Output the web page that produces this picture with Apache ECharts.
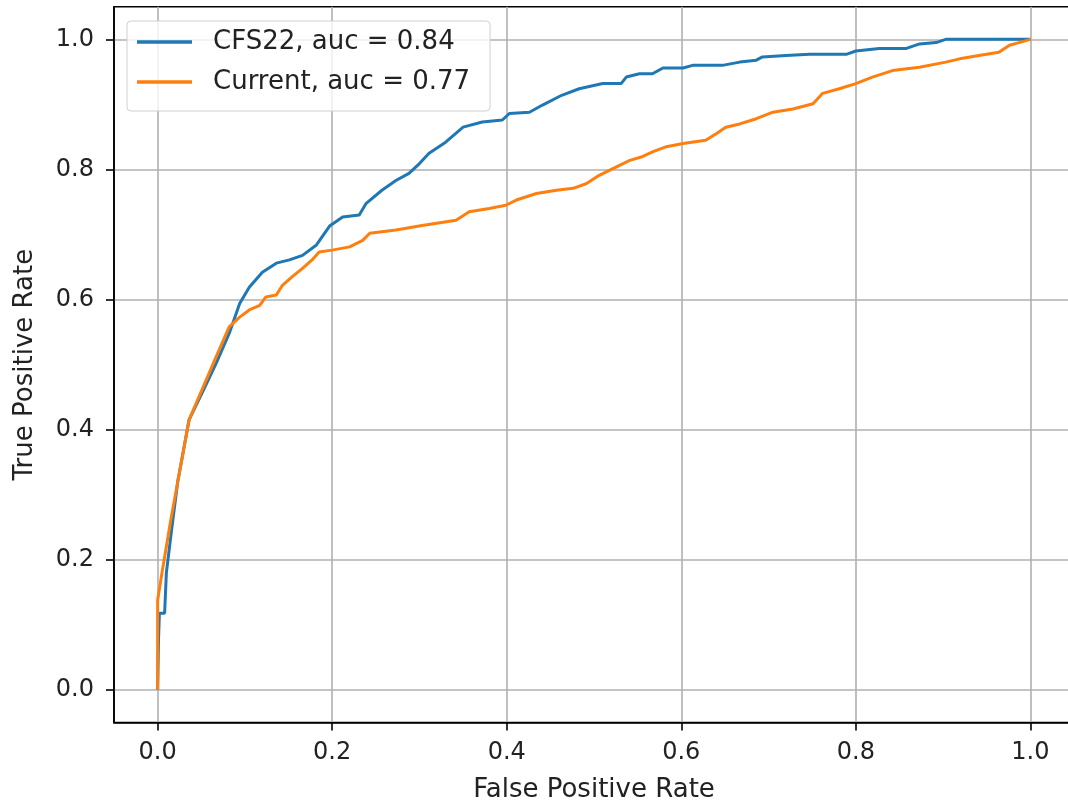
<!DOCTYPE html>
<html>
<head>
<meta charset="utf-8">
<script src="https://cdn.jsdelivr.net/npm/echarts@6/dist/echarts.min.js"></script>
<style>
html,body{margin:0;padding:0;background:#fff;}
#chart{width:1068px;height:805px;}
</style>
</head>
<body>
<div id="chart"></div>
<script>
const seriesNames = ['CFS22, auc = 0.84', 'Current, auc = 0.77'];
const xTickValues = [0, 0.2, 0.4, 0.6, 0.8, 1.0];
const yTickValues = [0, 0.2, 0.4, 0.6, 0.8, 1.0];
const xAxisTitle = 'False Positive Rate';
const yAxisTitle = 'True Positive Rate';

const fprCFS22 = [0, 0.001, 0.002, 0.008, 0.010, 0.016, 0.023, 0.036, 0.054, 0.067, 0.082, 0.094, 0.105, 0.120, 0.136, 0.151, 0.166, 0.182, 0.197, 0.212, 0.231, 0.239, 0.257, 0.273, 0.288, 0.300, 0.311, 0.330, 0.350, 0.372, 0.395, 0.403, 0.426, 0.441, 0.463, 0.483, 0.510, 0.531, 0.537, 0.552, 0.567, 0.579, 0.602, 0.613, 0.647, 0.667, 0.686, 0.693, 0.720, 0.747, 0.789, 0.800, 0.827, 0.858, 0.873, 0.892, 0.903, 1.0];
const tprCFS22 = [0, 0.077, 0.118, 0.118, 0.180, 0.246, 0.320, 0.415, 0.465, 0.502, 0.548, 0.594, 0.619, 0.642, 0.656, 0.661, 0.668, 0.684, 0.713, 0.727, 0.730, 0.748, 0.768, 0.783, 0.794, 0.809, 0.825, 0.842, 0.865, 0.873, 0.876, 0.886, 0.888, 0.899, 0.914, 0.924, 0.932, 0.932, 0.942, 0.947, 0.947, 0.956, 0.956, 0.960, 0.960, 0.965, 0.968, 0.973, 0.975, 0.977, 0.977, 0.982, 0.986, 0.986, 0.993, 0.995, 1.0, 1.0];

const fprCurrent = [0, 0.0, 0.005, 0.015, 0.036, 0.067, 0.082, 0.094, 0.105, 0.117, 0.124, 0.136, 0.143, 0.154, 0.166, 0.177, 0.185, 0.200, 0.220, 0.235, 0.243, 0.273, 0.303, 0.342, 0.357, 0.380, 0.399, 0.411, 0.434, 0.457, 0.476, 0.491, 0.506, 0.521, 0.541, 0.556, 0.567, 0.583, 0.602, 0.628, 0.640, 0.651, 0.667, 0.686, 0.705, 0.728, 0.751, 0.762, 0.781, 0.800, 0.819, 0.842, 0.873, 0.903, 0.919, 0.941, 0.964, 0.976, 0.987, 1.0];
const tprCurrent = [0, 0.138, 0.180, 0.261, 0.415, 0.512, 0.558, 0.573, 0.584, 0.591, 0.604, 0.607, 0.622, 0.635, 0.648, 0.661, 0.673, 0.676, 0.681, 0.691, 0.702, 0.707, 0.714, 0.722, 0.735, 0.740, 0.745, 0.753, 0.763, 0.768, 0.771, 0.778, 0.791, 0.801, 0.814, 0.820, 0.827, 0.835, 0.840, 0.845, 0.855, 0.865, 0.870, 0.878, 0.888, 0.893, 0.901, 0.917, 0.924, 0.932, 0.942, 0.952, 0.957, 0.965, 0.970, 0.975, 0.980, 0.991, 0.995, 1.0];

const colors = ['#1f77b4', '#ff7f0e'];
const FONT = 'DejaVu Sans';

function pairs(xs, ys) { return xs.map((x, i) => [x, ys[i]]); }

const chart = echarts.init(document.getElementById('chart'), null, {renderer: 'canvas'});

const axisCommon = (ticks) => ({
  type: 'value',
  min: -0.05,
  max: 1.05,
  axisLine: {show: true, onZero: false, lineStyle: {color: '#000', width: 1.6}},
  axisTick: {show: true, inside: false, length: 8, customValues: ticks, lineStyle: {color: '#000', width: 1.6}},
  axisLabel: {customValues: ticks, formatter: v => v.toFixed(1), color: '#222', fontFamily: FONT, fontSize: 24},
  splitLine: {show: true, lineStyle: {color: '#b0b0b0', width: 1.6}},
  nameTextStyle: {color: '#222', fontFamily: FONT, fontSize: 26},
  nameLocation: 'middle'
});

const xa = axisCommon(xTickValues);
xa.name = xAxisTitle;
xa.nameGap = 55;
xa.axisLabel.margin = 18;
const ya = axisCommon(yTickValues);
ya.name = yAxisTitle;
ya.nameGap = 76;
ya.axisLabel.margin = 20;

chart.setOption({
  animation: false,
  backgroundColor: '#fff',
  grid: {left: 114, right: -6, top: 6.8, bottom: 82.5, show: true, outerBoundsMode: 'none', containLabel: false, borderColor: '#000', borderWidth: 1.6, backgroundColor: 'transparent'},
  xAxis: xa,
  yAxis: ya,
  legend: {
    orient: 'vertical',
    left: 127,
    top: 21,
    icon: 'rect',
    itemWidth: 55,
    itemHeight: 3.5,
    itemGap: 10,
    padding: [6, 20, 14, 10],
    backgroundColor: 'rgba(255,255,255,0.8)',
    borderColor: '#d0d0d0',
    borderWidth: 1,
    borderRadius: 4,
    textStyle: {color: '#222', fontFamily: FONT, fontSize: 26, lineHeight: 30, padding: [0, 0, 0, 16]},
    data: seriesNames
  },
  series: [
    {name: seriesNames[0], type: 'line', data: pairs(fprCFS22, tprCFS22), showSymbol: false, symbol: 'none', color: colors[0], lineStyle: {color: colors[0], width: 3}},
    {name: seriesNames[1], type: 'line', data: pairs(fprCurrent, tprCurrent), showSymbol: false, symbol: 'none', color: colors[1], lineStyle: {color: colors[1], width: 3}}
  ]
});
</script>
</body>
</html>
